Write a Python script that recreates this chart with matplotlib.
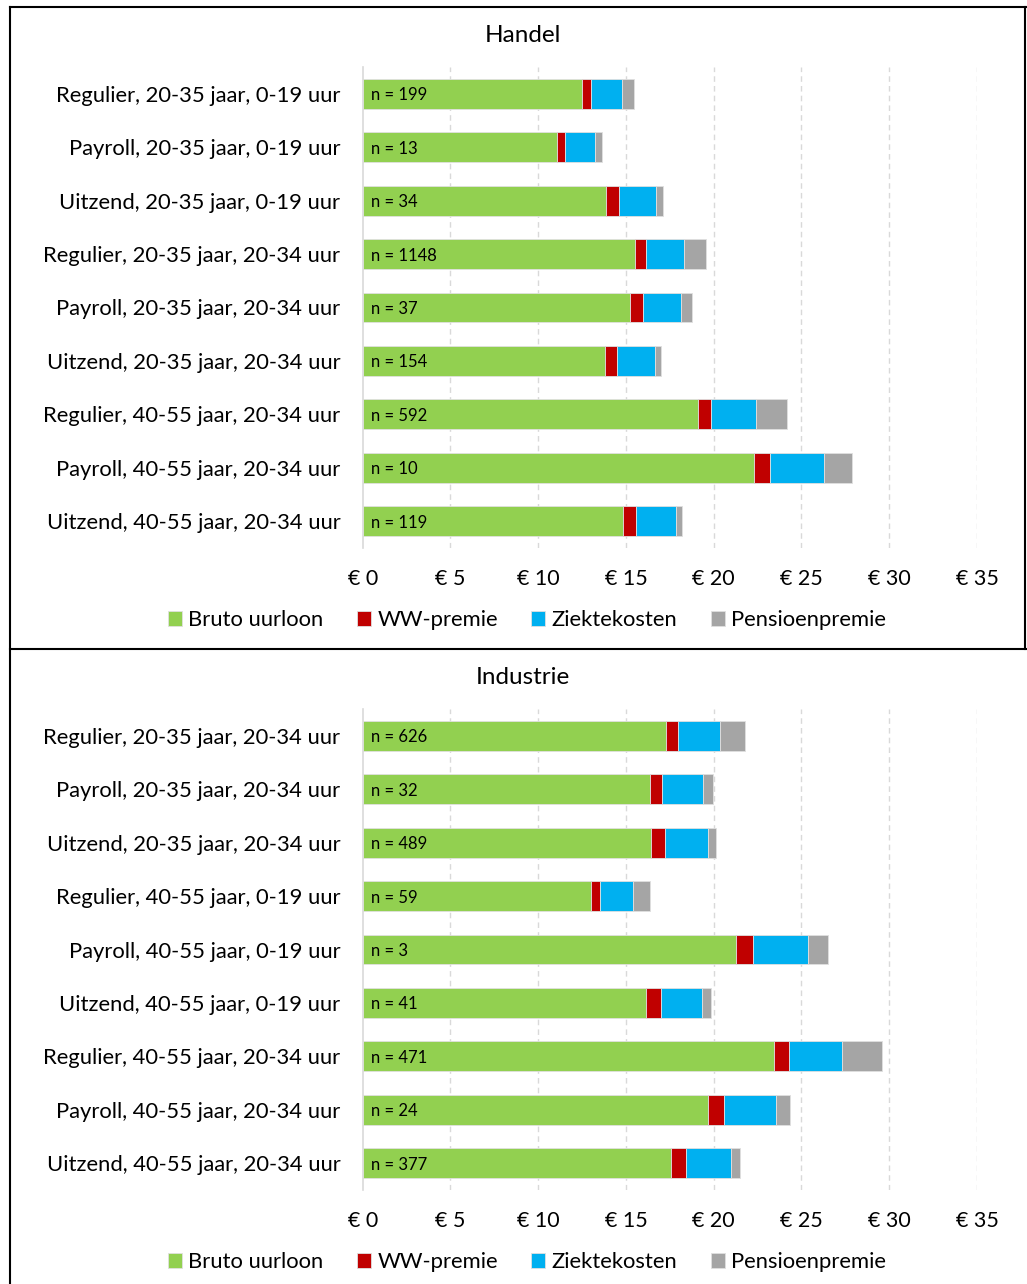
import matplotlib
matplotlib.use("Agg")
import matplotlib.pyplot as plt
from matplotlib.lines import Line2D
import numpy as np

plt.rcParams['font.family'] = ['Lato', 'DejaVu Sans']

# data
series = ['Bruto uurloon', 'WW-premie', 'Ziektekosten', 'Pensioenpremie']
colors = ['#92D050', '#C00000', '#00B0F0', '#A5A5A5']

handel_labels = ['Regulier, 20-35 jaar, 0-19 uur', 'Payroll, 20-35 jaar, 0-19 uur',
                 'Uitzend, 20-35 jaar, 0-19 uur', 'Regulier, 20-35 jaar, 20-34 uur',
                 'Payroll, 20-35 jaar, 20-34 uur', 'Uitzend, 20-35 jaar, 20-34 uur',
                 'Regulier, 40-55 jaar, 20-34 uur', 'Payroll, 40-55 jaar, 20-34 uur',
                 'Uitzend, 40-55 jaar, 20-34 uur']
handel_n = [199, 13, 34, 1148, 37, 154, 592, 10, 119]
handel_bruto = [12.50, 11.09, 13.86, 15.52, 15.23, 13.81, 19.11, 22.30, 14.85]
handel_ww = [0.51, 0.44, 0.74, 0.61, 0.72, 0.70, 0.74, 0.93, 0.74]
handel_ziekte = [1.78, 1.71, 2.11, 2.18, 2.20, 2.15, 2.56, 3.05, 2.26]
handel_pensioen = [0.65, 0.40, 0.42, 1.25, 0.60, 0.32, 1.75, 1.62, 0.36]

industrie_labels = ['Regulier, 20-35 jaar, 20-34 uur', 'Payroll, 20-35 jaar, 20-34 uur',
                    'Uitzend, 20-35 jaar, 20-34 uur', 'Regulier, 40-55 jaar, 0-19 uur',
                    'Payroll, 40-55 jaar, 0-19 uur', 'Uitzend, 40-55 jaar, 0-19 uur',
                    'Regulier, 40-55 jaar, 20-34 uur', 'Payroll, 40-55 jaar, 20-34 uur',
                    'Uitzend, 40-55 jaar, 20-34 uur']
industrie_n = [626, 32, 489, 59, 3, 41, 471, 24, 377]
industrie_bruto = [17.30, 16.37, 16.41, 13.01, 21.27, 16.14, 23.43, 19.67, 17.59]
industrie_ww = [0.67, 0.68, 0.82, 0.51, 0.97, 0.86, 0.84, 0.93, 0.82]
industrie_ziekte = [2.39, 2.36, 2.46, 1.90, 3.15, 2.35, 3.05, 2.95, 2.56]
industrie_pensioen = [1.44, 0.55, 0.46, 0.93, 1.11, 0.48, 2.29, 0.77, 0.51]

xticks = [0, 5, 10, 15, 20, 25, 30, 35]
xtick_labels = ['€ ' + str(t) for t in xticks]

W, H = 1027, 1284
fig = plt.figure(figsize=(W / 100, H / 100), dpi=100)


def draw_panel(top, labels, n, parts, title):
    # top = pixel y of the top of the plot area
    left, right, height = 362.7, 977, 481
    ax = fig.add_axes([left / W, 1 - (top + height) / H, (right - left) / W, height / H])
    y = np.arange(len(labels))
    start = np.zeros(len(labels))
    for vals, name, col in zip(parts, series, colors):
        ax.barh(y, vals, left=start, height=0.56, color=col, label=name,
                edgecolor='#e0e0e0', linewidth=0.6, zorder=3)
        start += np.array(vals)
    for i, v in enumerate(n):
        ax.annotate('n = ' + str(v), xy=(0, i), xytext=(8, 0), textcoords='offset pixels',
                    ha='left', va='center_baseline', fontsize=12, zorder=4)
    ax.set_xlim(0, 35)
    ax.set_ylim(len(labels) - 0.5, -0.5)
    ax.set_yticks(y)
    ax.set_yticklabels(labels, fontsize=15.8)
    ax.set_xticks(xticks)
    ax.set_xticklabels(xtick_labels, fontsize=15.5)
    ax.tick_params(axis='x', length=0, pad=15)
    ax.tick_params(axis='y', length=0, pad=16)
    for t in xticks[1:]:
        ax.axvline(t, color='#d9d9d9', linestyle=(0, (4, 3)), linewidth=1, zorder=1)
    for s in ['top', 'right', 'bottom']:
        ax.spines[s].set_visible(False)
    ax.spines['left'].set_color('#d9d9d9')
    ax.spines['left'].set_linewidth(1.2)
    fig.text(523 / W, 1 - (top - 31) / H, title, ha='center', va='center', fontsize=17.5)
    fig.legend(*ax.get_legend_handles_labels(), loc='center', ncol=4, frameon=False,
               bbox_to_anchor=(527 / W, 1 - (top + 553) / H), fontsize=15.8,
               handlelength=0.65, handleheight=0.65, handletextpad=0.3, columnspacing=1.5,
               bbox_transform=fig.transFigure)
    return ax


draw_panel(67, handel_labels, handel_n,
           [handel_bruto, handel_ww, handel_ziekte, handel_pensioen], 'Handel')
draw_panel(709, industrie_labels, industrie_n,
           [industrie_bruto, industrie_ww, industrie_ziekte, industrie_pensioen], 'Industrie')


# panel borders
def fline(xs, ys, lw=1.5):
    fig.add_artist(Line2D([x / W for x in xs], [1 - v / H for v in ys],
                          color='black', linewidth=lw, transform=fig.transFigure))


fline([10, 1027], [7, 7])
fline([10, 10], [7, 1284])
fline([10, 1027], [649, 649])
fline([1025, 1025], [7, 649])

fig.savefig('out.png', dpi=100)
